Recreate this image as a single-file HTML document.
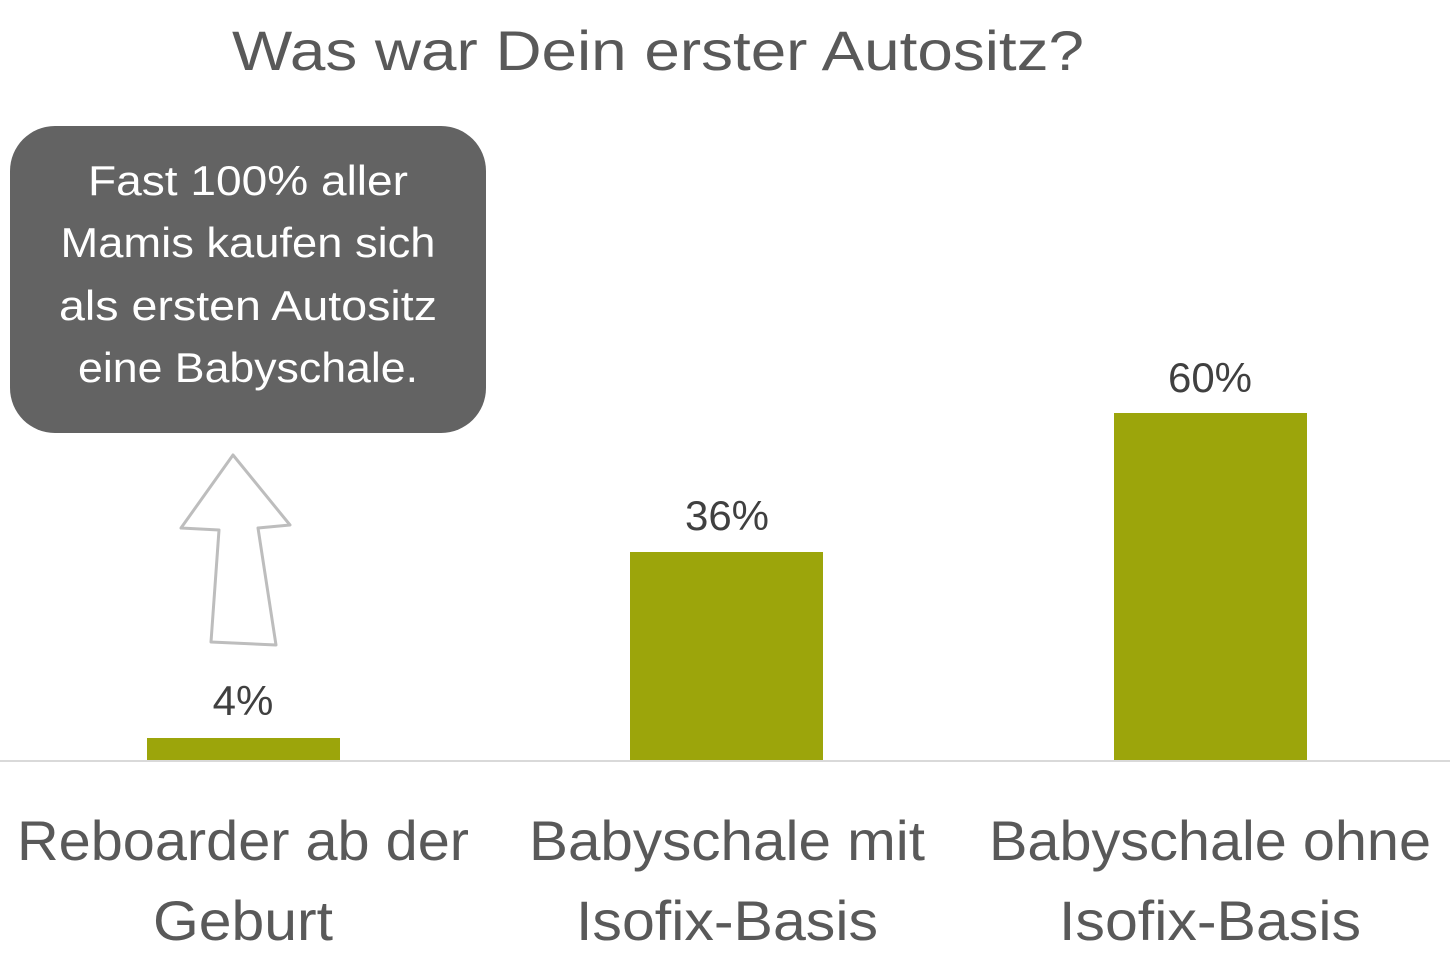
<!DOCTYPE html>
<html><head><meta charset="utf-8"><style>
html,body{margin:0;padding:0;background:#fff;}
svg{display:block;font-family:"Liberation Sans",sans-serif;}
</style></head><body>
<svg width="1450" height="962" viewBox="0 0 1450 962" xmlns="http://www.w3.org/2000/svg">
<rect width="1450" height="962" fill="#fff"/>
<text x="658" y="70" font-size="56" fill="#595959" text-anchor="middle" textLength="852" lengthAdjust="spacingAndGlyphs">Was war Dein erster Autositz?</text>
<rect x="10" y="126" width="476" height="307" rx="45" fill="#636363"/>
<g fill="#fff" font-size="42" text-anchor="middle">
<text x="248" y="195" textLength="320" lengthAdjust="spacingAndGlyphs">Fast 100% aller</text>
<text x="248" y="257" textLength="375" lengthAdjust="spacingAndGlyphs">Mamis kaufen sich</text>
<text x="248" y="320" textLength="378" lengthAdjust="spacingAndGlyphs">als ersten Autositz</text>
<text x="248" y="382" textLength="340" lengthAdjust="spacingAndGlyphs">eine Babyschale.</text>
</g>
<polygon points="233,455 290,525 258,528 276,645 211,642 219,530 181,528" fill="#fff" stroke="#bdbdbd" stroke-width="3" stroke-linejoin="round"/>
<line x1="0" y1="761" x2="1450" y2="761" stroke="#d9d9d9" stroke-width="2"/>
<g fill="#9ca50b">
<rect x="147" y="738" width="193" height="22"/>
<rect x="630" y="552" width="193" height="208"/>
<rect x="1114" y="413" width="193" height="347"/>
</g>
<g fill="#404040" font-size="42" text-anchor="middle">
<text x="243" y="715">4%</text>
<text x="727" y="530">36%</text>
<text x="1210" y="392">60%</text>
</g>
<g fill="#595959" font-size="56" text-anchor="middle">
<text x="243" y="860" textLength="452" lengthAdjust="spacingAndGlyphs">Reboarder ab der</text>
<text x="243" y="940" textLength="180" lengthAdjust="spacingAndGlyphs">Geburt</text>
<text x="727" y="860" textLength="396" lengthAdjust="spacingAndGlyphs">Babyschale mit</text>
<text x="727" y="940" textLength="302" lengthAdjust="spacingAndGlyphs">Isofix-Basis</text>
<text x="1210" y="860" textLength="442" lengthAdjust="spacingAndGlyphs">Babyschale ohne</text>
<text x="1210" y="940" textLength="302" lengthAdjust="spacingAndGlyphs">Isofix-Basis</text>
</g>
</svg>
</body></html>
